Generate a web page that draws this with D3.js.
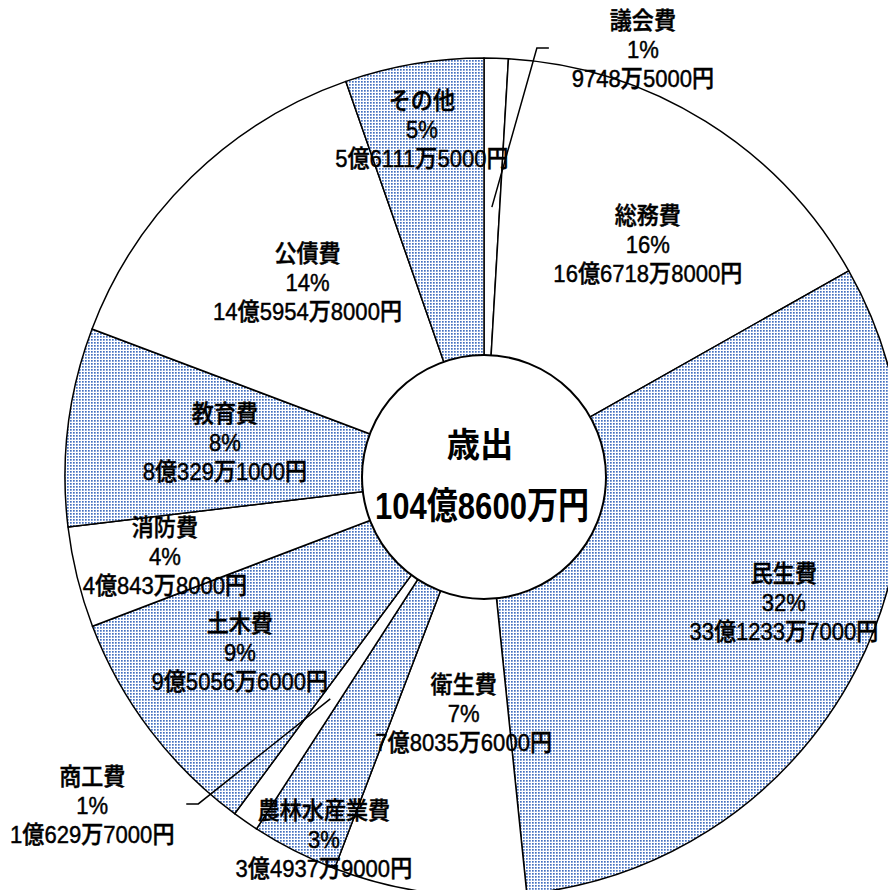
<!DOCTYPE html>
<html>
<head>
<meta charset="utf-8">
<script src="https://cdn.jsdelivr.net/npm/d3@7"></script>
<style>
  body { margin: 0; background: #fff; }
  text { font-family: "Liberation Sans", "Noto Sans CJK JP", sans-serif; fill: #000; }
</style>
</head>
<body>
<div id="my_dataviz"></div>
<script>
// categories and values (万円)
const categories = ["議会費", "総務費", "民生費", "衛生費", "農林水産業費", "商工費", "土木費", "消防費", "教育費", "公債費", "その他"];
const values = [9748.5, 166718.8, 331233.7, 78035.6, 34937.9, 10629.7, 95056.6, 40843.8, 80329.1, 145954.8, 56111.5];
const percents = ["1%", "16%", "32%", "7%", "3%", "1%", "9%", "4%", "8%", "14%", "5%"];
const amounts = ["9748万5000円", "16億6718万8000円", "33億1233万7000円", "7億8035万6000円", "3億4937万9000円",
  "1億629万7000円", "9億5056万6000円", "4億843万8000円", "8億329万1000円", "14億5954万8000円", "5億6111万5000円"];
const dotted = [false, false, true, false, true, false, true, false, true, false, true];
const centerTitle = "歳出";
const centerTotal = "104億8600万円";

const width = 888, height = 890,
      cx = 484, cy = 477,
      outerR = 419, innerR = 122, labelR = 270;

// nudges of the data labels away from the slice centroid (layout only)
const nudge = {
  "議会費": [151, -157], "総務費": [21, -3], "民生費": [60, 2], "衛生費": [15, -31],
  "農林水産業費": [-38, 122], "商工費": [-238, 107], "土木費": [-29, 13], "消防費": [-57, 15],
  "教育費": [9, -2], "公債費": [12, -1], "その他": [-17, -81]
};
const leaders = ["議会費", "商工費"];

const data = categories.map((c, i) => ({ name: c, value: values[i], pct: percents[i], amt: amounts[i], dotted: dotted[i] }));

const svg = d3.select("#my_dataviz")
  .append("svg")
    .attr("width", width)
    .attr("height", height);

const defs = svg.append("defs");
const pat = defs.append("pattern")
    .attr("id", "dots")
    .attr("patternUnits", "userSpaceOnUse")
    .attr("width", 3)
    .attr("height", 3);
pat.append("rect").attr("width", 3).attr("height", 3).attr("fill", "#fff");
pat.append("rect").attr("width", 1.7).attr("height", 1.7).attr("fill", "#4470c0");

const g = svg.append("g").attr("transform", `translate(${cx},${cy})`);

const pie = d3.pie().sort(null).value(d => d.value);
const arcs = pie(data);

const arc = d3.arc().innerRadius(0).outerRadius(outerR);
const labelArc = d3.arc().innerRadius(labelR).outerRadius(labelR);

g.selectAll("path.slice")
  .data(arcs)
  .join("path")
    .attr("class", "slice")
    .attr("d", arc)
    .attr("fill", d => d.data.dotted ? "url(#dots)" : "#fff")
    .attr("stroke", "#000")
    .attr("stroke-width", 1.5)
    .attr("stroke-linejoin", "round");

// center circle
g.append("circle")
  .attr("r", innerR)
  .attr("fill", "#fff")
  .attr("stroke", "#000")
  .attr("stroke-width", 2);

g.append("text")
  .attr("text-anchor", "middle")
  .attr("transform", "translate(-4,-32) scale(0.98,1)")
  .attr("dominant-baseline", "central")
  .style("font-size", "34px")
  .style("font-weight", "bold")
  .text(centerTitle);

g.append("text")
  .attr("text-anchor", "middle")
  .attr("transform", "translate(-2,29) scale(0.84,1)")
  .attr("dominant-baseline", "central")
  .style("font-size", "37px")
  .style("font-weight", "bold")
  .text(centerTotal);

function labelPos(d) {
  const c = labelArc.centroid(d);
  const n = nudge[d.data.name];
  return [c[0] + n[0], c[1] + n[1]];
}

// leader lines for the small outside labels
g.selectAll("path.leader")
  .data(arcs.filter(d => leaders.includes(d.data.name)))
  .join("path")
    .attr("class", "leader")
    .attr("fill", "none")
    .attr("stroke", "#000")
    .attr("stroke-width", 1.5)
    .attr("d", d => {
      const s = labelArc.centroid(d);
      const p = labelPos(d);
      const side = p[0] > s[0] ? 1 : -1;
      const elbow = [p[0] - side * 106, p[1] - 2];
      const end = [p[0] - side * 94, p[1] - 2];
      return d3.line()([s, elbow, end]);
    });

const labels = g.selectAll("text.label")
  .data(arcs)
  .join("text")
    .attr("class", "label")
    .attr("text-anchor", "middle")
    .attr("transform", d => `translate(${labelPos(d)}) scale(0.92,1)`)
    .style("font-size", "24px")
    .style("font-weight", 500)
    .style("stroke", "#000")
    .style("stroke-width", 0.45);

labels.selectAll("tspan")
  .data(d => [d.data.name, d.data.pct, d.data.amt])
  .join("tspan")
    .attr("x", 0)
    .attr("y", (t, i) => (i - 1) * 29)
    .attr("dominant-baseline", "central")
    .text(t => t);
</script>
</body>
</html>
